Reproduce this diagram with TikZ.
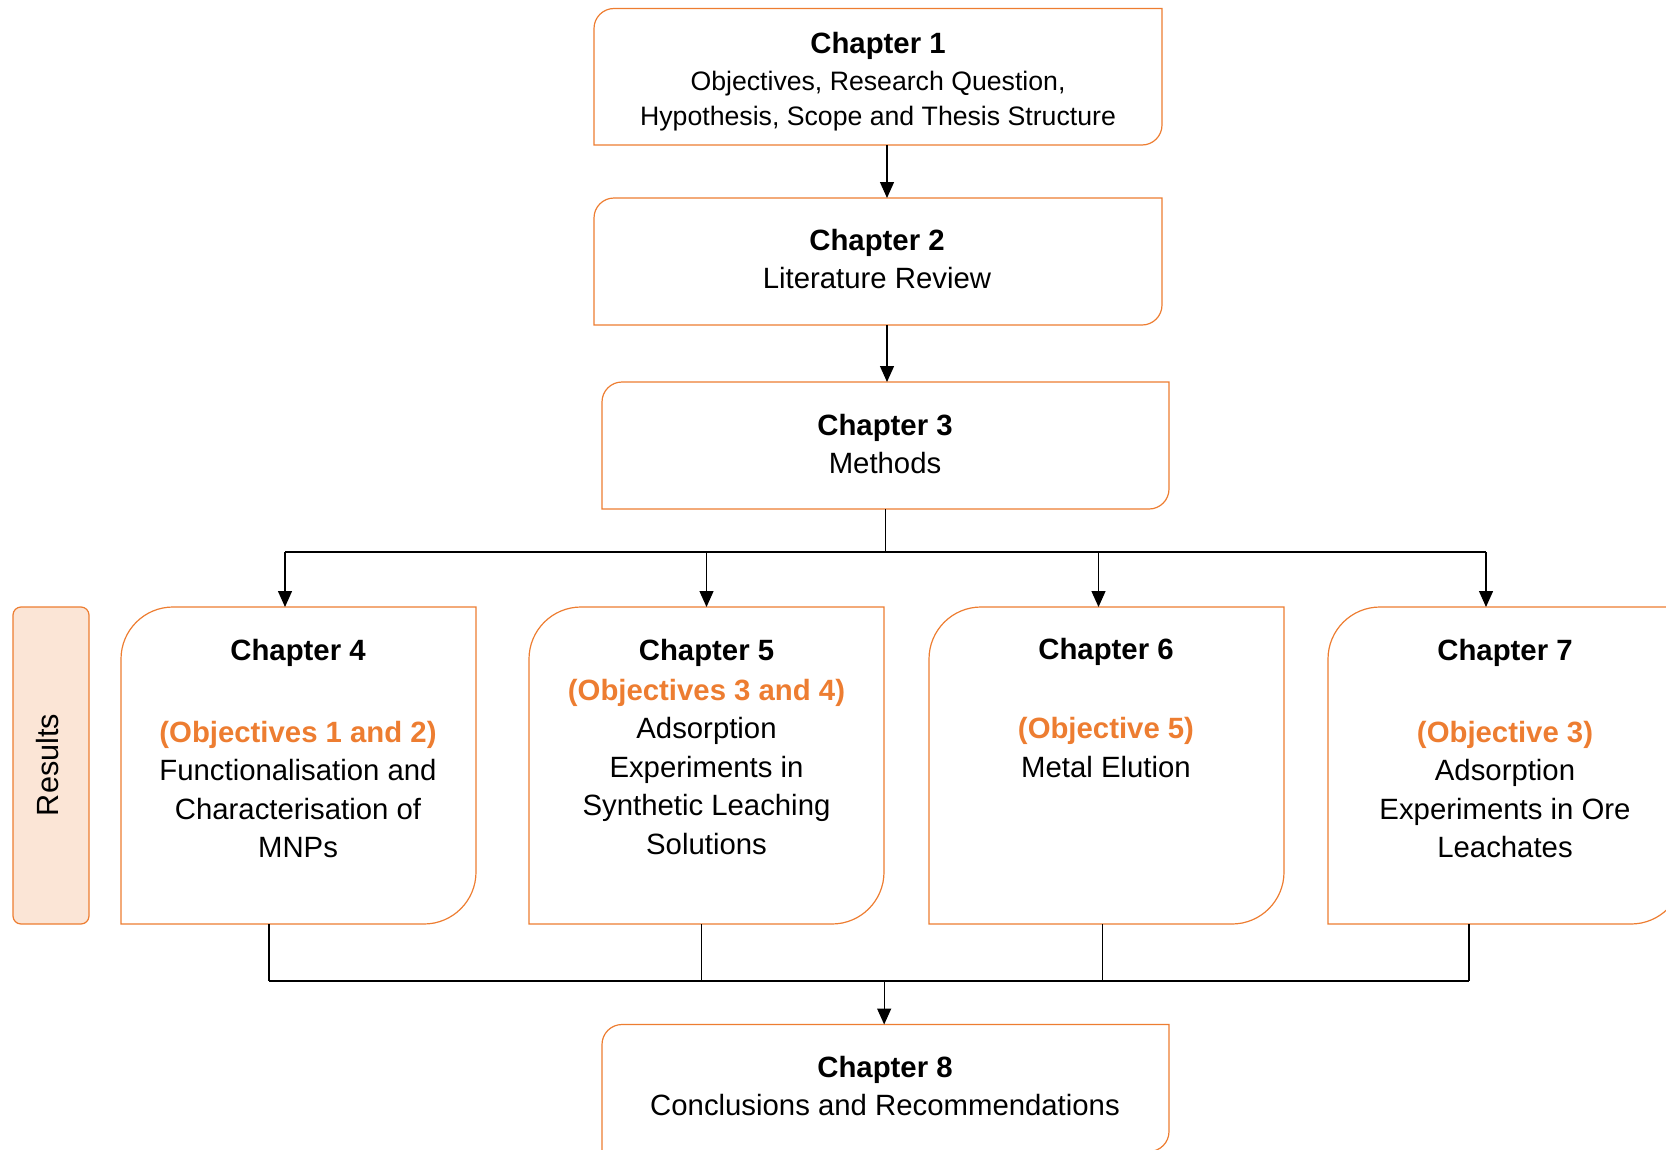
\documentclass[tikz,border=0pt]{standalone}
\usepackage{fontspec}
\setmainfont{Liberation Sans}
\usetikzlibrary{arrows.meta,calc}
\definecolor{oline}{RGB}{237,125,49}
\definecolor{ofill}{RGB}{251,229,214}
\newcommand{\obj}[1]{\textcolor{oline}{\textbf{#1}}}
\newcommand{\chapbox}[2]{%
  \draw[obox] (#1.south west) -- ([yshift=-#2]#1.north west)
    arc[start angle=180,end angle=90,radius=#2] -- (#1.north east)
    -- ([yshift=#2]#1.south east)
    arc[start angle=0,end angle=-90,radius=#2] -- cycle;}
\begin{document}
\begin{tikzpicture}[x=0.75pt,y=0.75pt,
  boxn/.style={rectangle,draw=none,inner sep=0pt,outer sep=0pt},
  obox/.style={draw=oline,line width=0.9pt},
  txt/.style={align=center,inner sep=0pt,font=\fontsize{22}{28.9}\selectfont},
  conn/.style={line width=1pt,draw=black},
  busline/.style={line width=1.6pt,draw=black},
  arr/.style={conn,-{Triangle[length=12pt,width=10.5pt]}}]
\useasboundingbox (0,0) rectangle (1666,-1149);

% box frames (named, empty)
\node[boxn,minimum width={568*0.75pt},minimum height={136.5*0.75pt}] (c1) at (878,-76.75) {};
\node[boxn,minimum width={568*0.75pt},minimum height={127*0.75pt}] (c2) at (878,-261.5) {};
\node[boxn,minimum width={567*0.75pt},minimum height={127*0.75pt}] (c3) at (885.5,-445.5) {};
\node[boxn,minimum width={355*0.75pt},minimum height={317*0.75pt}] (c4) at (298.5,-765.5) {};
\node[boxn,minimum width={355*0.75pt},minimum height={317*0.75pt}] (c5) at (706.5,-765.5) {};
\node[boxn,minimum width={355*0.75pt},minimum height={317*0.75pt}] (c6) at (1106.5,-765.5) {};
\node[boxn,minimum width={355*0.75pt},minimum height={317*0.75pt}] (c7) at (1505.5,-765.5) {};
\node[boxn,minimum width={567*0.75pt},minimum height={127*0.75pt}] (c8) at (885.5,-1088) {};

\chapbox{c1}{15pt}
\chapbox{c2}{15pt}
\chapbox{c3}{15pt}
\chapbox{c4}{39pt}
\chapbox{c5}{39pt}
\chapbox{c6}{39pt}
\chapbox{c7}{39pt}
\chapbox{c8}{15pt}

% Results side box
\node[rectangle,draw=oline,fill=ofill,line width=0.9pt,rounded corners=6pt,
      minimum width={76*0.75pt},minimum height={317*0.75pt},inner sep=0pt] (res) at (51,-765.5) {};
\node[rotate=90,inner sep=0pt,font=\fontsize{23}{28}\selectfont] (restxt) at (48,-765) {Results};

% texts
\node[txt,font=\fontsize{20}{26.3}\selectfont] (t1) at (878,-81.5)
  {{\fontsize{22}{26.3}\selectfont\textbf{Chapter 1}}\\[1.5pt]
   Objectives, Research Question,\\ Hypothesis, Scope and Thesis Structure};
\node[txt] (t2) at (877,-259) {\textbf{Chapter 2}\\Literature Review};
\node[txt] (t3) at (885,-444) {\textbf{Chapter 3}\\Methods};
\node[txt] (t4) at (298,-748.5)
  {\textbf{Chapter 4}\\[32.5pt]\obj{(Objectives 1 and 2)}\\Functionalisation and\\Characterisation of\\MNPs};
\node[txt] (t5) at (706.5,-747)
  {\textbf{Chapter 5}\\[1pt]\obj{(Objectives 3 and 4)}\\Adsorption\\Experiments in\\Synthetic Leaching\\Solutions};
\node[txt] (t6) at (1106,-708)
  {\textbf{Chapter 6}\\[30.3pt]\obj{(Objective 5)}\\Metal Elution};
\node[txt] (t7) at (1505,-748.5)
  {\textbf{Chapter 7}\\[32.5pt]\obj{(Objective 3)}\\Adsorption\\Experiments in Ore\\Leachates};
\node[txt] (t8) at (885,-1086) {\textbf{Chapter 8}\\Conclusions and Recommendations};

% top connectors
\draw[arr] ([xshift=6.75pt]c1.south) -- ([xshift=6.75pt]c2.north);
\draw[arr] ([xshift=6.75pt]c2.south) -- ([xshift=6.75pt]c2.south |- c3.north);

% distribution bus
\coordinate (b4) at (285,-552);
\coordinate (b5) at (706.5,-552);
\coordinate (b6) at (1098.5,-552);
\coordinate (b7) at (1486,-552);
\draw[conn] (c3.south) -- (c3.south |- b4);
\draw[busline] (b4) -- (b7);
\draw[arr] (b4) -- (b4 |- c4.north);
\draw[arr] (b5) -- (b5 |- c5.north);
\draw[arr] (b6) -- (b6 |- c6.north);
\draw[arr] (b7) -- (b7 |- c7.north);

% collection bus
\coordinate (d4) at (269,-981);
\coordinate (d5) at (701.5,-981);
\coordinate (d6) at (1102.5,-981);
\coordinate (d7) at (1469,-981);
\draw[conn] (d4 |- c4.south) -- (d4);
\draw[conn] (d5 |- c5.south) -- (d5);
\draw[conn] (d6 |- c6.south) -- (d6);
\draw[conn] (d7 |- c7.south) -- (d7);
\draw[busline] (d4) -- (d7);
\coordinate (d8) at ([xshift=-1pt]c8.north |- d4);
\draw[arr] (d8) -- ([xshift=-1pt]c8.north);
\end{tikzpicture}
\end{document}
